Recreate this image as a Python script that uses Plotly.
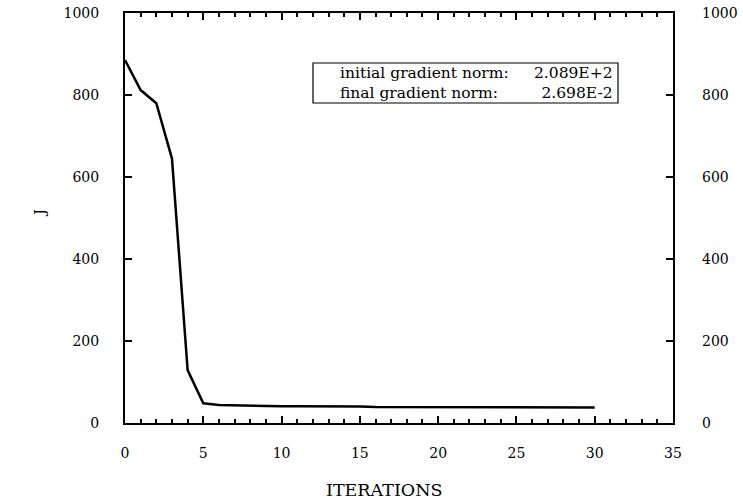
import plotly.graph_objects as go

iterations = list(range(0, 31))
J_values = [885, 812, 780, 645, 129, 48, 44, 43, 42, 42, 41, 41, 41, 40, 40, 40,
            39, 39, 39, 39, 39, 39, 38, 38, 38, 38, 38, 38, 38, 38, 38]

x_ticks = [0, 5, 10, 15, 20, 25, 30, 35]
y_ticks = [0, 200, 400, 600, 800, 1000]

info_labels = ["initial gradient norm:", "final gradient norm:"]
info_values = ["2.089E+2", "2.698E-2"]

font_family = "DejaVu Serif"

fig = go.Figure()
fig.add_trace(go.Scatter(x=iterations, y=J_values, mode="lines",
                         line=dict(color="black", width=2.5), showlegend=False))
fig.add_trace(go.Scatter(x=[0], y=[0], yaxis="y2", mode="markers",
                         marker=dict(opacity=0), showlegend=False, hoverinfo="skip"))

fig.update_layout(
    template="none",
    width=743, height=504,
    margin=dict(l=125, r=70, t=13, b=81),
    paper_bgcolor="white", plot_bgcolor="white",
    font=dict(family=font_family, size=14, color="black"),
    xaxis=dict(range=[0, 35], tickvals=x_ticks, ticks="inside", ticklen=7, tickwidth=1.5,
               tickcolor="black", showline=True, linecolor="black", linewidth=2,
               mirror="ticks", showgrid=False, zeroline=False, automargin=False,
               minor=dict(dtick=1, ticks="inside", ticklen=4, tickcolor="black", tickwidth=1.5),
               ticklabelstandoff=16),
    yaxis=dict(range=[0, 1000], tickvals=y_ticks, ticks="inside", ticklen=7, tickwidth=1.5,
               tickcolor="black", showline=True, linecolor="black", linewidth=2,
               mirror="ticks", showgrid=False, zeroline=False, automargin=False,
               ticklabelstandoff=21),
    yaxis2=dict(range=[0, 1000], tickvals=y_ticks, overlaying="y", side="right",
                showline=False, showgrid=False, zeroline=False, ticks="", automargin=False,
                ticklabelstandoff=28),
)

# axis titles
fig.add_annotation(x=(384 - 125) / 548, y=(423 - 490) / 410, xref="paper", yref="paper",
                   xanchor="center", yanchor="middle",
                   text="ITERATIONS", showarrow=False, font=dict(size=17.5, family=font_family))
fig.add_annotation(x=(40 - 125) / 548, y=(423 - 213) / 410, xref="paper", yref="paper",
                   xanchor="center", yanchor="middle",
                   text="J", textangle=-90, showarrow=False, font=dict(size=15, family=font_family))

# info box
fig.add_shape(type="rect", xref="paper", yref="paper",
              x0=(313 - 125) / 548, x1=(618 - 125) / 548,
              y0=(423 - 103) / 410, y1=(423 - 63) / 410,
              line=dict(color="black", width=1.2), fillcolor="white")
fig.add_annotation(x=(338 - 125) / 548, y=(423 - 83) / 410, xref="paper", yref="paper",
                   text="<br>".join(info_labels), showarrow=False, xanchor="left",
                   yanchor="middle", align="left",
                   font=dict(size=15.5, family=font_family))
fig.add_annotation(x=(615 - 125) / 548, y=(423 - 83) / 410, xref="paper", yref="paper",
                   text="<br>".join(info_values), showarrow=False, xanchor="right",
                   yanchor="middle", align="right",
                   font=dict(size=15.5, family=font_family))

fig.write_html("out.html")
